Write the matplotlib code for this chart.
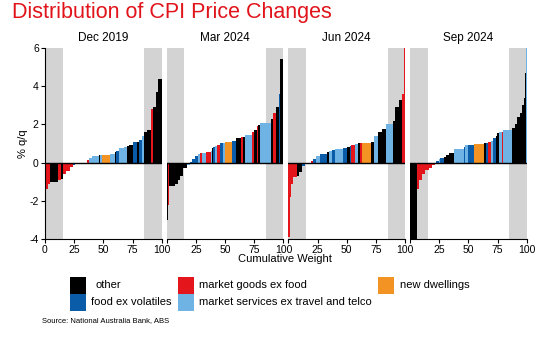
import numpy as np
import matplotlib
matplotlib.use("Agg")
import matplotlib.pyplot as plt
from matplotlib.patches import Rectangle

plt.rcParams['font.family'] = ['Liberation Sans', 'DejaVu Sans']
plt.rcParams['axes.unicode_minus'] = False

quarters = ['Dec 2019', 'Mar 2024', 'Jun 2024', 'Sep 2024']

# CPI items sorted by q/q price change: weight (% of basket), change (%), group
# o = other, g = market goods ex food, d = new dwellings,
# f = food ex volatiles, s = market services ex travel and telco
dec19_w = [1, 1.5, 2, 7, 2.5, 1.5, 2.5, 3, 3, 2, 10, 1.5, 2.5, 6, 1, 2, 7, 4, 1, 2,
           5, 2.5, 1.5, 3, 4, 1.5, 2.5, 1.5, 2.5, 4, 1.5, 3, 1.5, 3]
dec19_chg = [-1.7, -1.4, -1.1, -1.0, -0.9, -0.85, -0.6, -0.45, -0.25, -0.1, 0.0,
             0.15, 0.25, 0.35, 0.4, 0.4, 0.4, 0.45, 0.55, 0.6, 0.75, 0.8, 0.85,
             0.9, 1.1, 1.1, 1.2, 1.4, 1.6, 1.7, 2.8, 2.9, 3.7, 4.4]
dec19_grp = ['g', 'g', 'g', 'o', 'g', 'o', 'g', 'g', 'g', 'f', 'o',
             'g', 's', 's', 'o', 's', 'd', 's', 'o', 'f', 's', 's', 'o',
             'o', 'f', 'o', 'f', 's', 'o', 'o', 'g', 'o', 'o', 'o']

mar24_w = [1, 1, 5, 3, 1.5, 2.5, 3, 3, 1.5, 2.5, 3, 1.5, 1.5, 4, 4, 1, 1, 1.5, 2,
           2, 3, 1.5, 6, 3, 5, 1, 2, 6, 2, 2, 1.5, 1.5, 9, 2.5, 2.5, 2, 1.5, 2.5]
mar24_chg = [-3.0, -2.2, -1.2, -1.1, -0.9, -0.7, -0.3, -0.15, 0.05, 0.2, 0.35,
             0.45, 0.5, 0.5, 0.55, 0.6, 0.75, 0.8, 0.85, 0.9, 1.0, 1.05, 1.1,
             1.15, 1.3, 1.35, 1.35, 1.45, 1.6, 1.7, 1.9, 1.95, 2.05, 2.3, 2.6,
             2.9, 3.6, 5.4]
mar24_grp = ['o', 'g', 'o', 'o', 'o', 'o', 'o', 's', 'f', 'f', 'f',
             's', 'g', 's', 'g', 's', 'o', 'f', 's', 'g', 'f', 's', 'd',
             'f', 'o', 'g', 'o', 's', 'g', 'o', 'g', 'o', 's', 'o', 'g',
             'o', 'f', 'o']

jun24_w = [1, 1, 2, 3, 2, 2.5, 2.5, 5, 2, 3, 3, 6, 1.5, 2.5, 3, 7, 3, 2.5, 1.5,
           3, 3, 1.5, 1.5, 8, 2.5, 3.5, 3, 3.5, 6.5, 1.5, 3, 2.5, 2, 1]
jun24_chg = [-3.9, -1.8, -1.1, -0.75, -0.7, -0.5, -0.2, 0.0, 0.1, 0.2, 0.35,
             0.45, 0.55, 0.6, 0.65, 0.7, 0.75, 0.8, 0.85, 0.9, 0.95, 1.0, 1.05,
             1.05, 1.1, 1.4, 1.6, 1.75, 2.0, 2.2, 2.9, 3.3, 3.6, 6.0]
jun24_grp = ['g', 'g', 'g', 'g', 'o', 'o', 'f', 'o', 'g', 'f', 's',
             'f', 'o', 's', 'f', 's', 'f', 'o', 'f', 'g', 's', 'o', 'g',
             'd', 'o', 's', 'o', 'o', 's', 'o', 'o', 'o', 'g', 'g']

sep24_w = [6, 2, 2.5, 2.5, 3, 3, 2.5, 1, 2, 1.5, 3, 1.5, 2.5, 5, 8, 1.5, 2.5, 5,
           8.5, 2, 1.5, 2, 2.5, 2, 1, 1.5, 2.5, 1, 7.5, 3, 2, 2, 2, 1.5, 1.3,
           0.9, 0.3]
sep24_chg = [-4.3, -1.4, -0.9, -0.6, -0.4, -0.3, -0.15, -0.05, 0.1, 0.2, 0.25,
             0.3, 0.4, 0.5, 0.7, 0.8, 0.9, 0.9, 0.95, 1.0, 1.05, 1.1, 1.15,
             1.3, 1.4, 1.55, 1.6, 1.6, 1.7, 1.8, 2.0, 2.4, 2.6, 3.0, 3.4,
             4.7, 6.0]
sep24_grp = ['o', 'g', 'g', 'g', 'g', 'g', 'g', 'f', 'f', 's', 'f',
             'o', 'o', 'o', 's', 'f', 's', 'f', 'd', 'o', 'f', 'g', 's',
             'f', 'o', 'o', 's', 'g', 's', 'o', 'o', 'o', 'o', 'o', 'o',
             'o', 's']

group_colors = {'o': '#000000', 'g': '#e4151b', 'd': '#f39323',
                'f': '#0a5ca8', 's': '#6eb3e3'}
group_names = {'o': 'other', 'g': 'market goods ex food', 'd': 'new dwellings',
               'f': 'food ex volatiles', 's': 'market services ex travel and telco'}

panels = [(dec19_w, dec19_chg, dec19_grp), (mar24_w, mar24_chg, mar24_grp),
          (jun24_w, jun24_chg, jun24_grp), (sep24_w, sep24_chg, sep24_grp)]

W, H = 560, 337
fig = plt.figure(figsize=(W / 100, H / 100), dpi=100)

def fx(px):
    return px / W

def fy(py):
    return 1 - py / H

lefts = [45, 166.7, 288.4, 410]
for i, (name, (w, chg, grp)) in enumerate(zip(quarters, panels)):
    ax = fig.add_axes([fx(lefts[i]), fy(239), 116.7 / W, 191 / H])
    ax.axvspan(0, 15, color='#d3d3d3', lw=0)
    ax.axvspan(85, 100, color='#d3d3d3', lw=0)
    x0 = np.concatenate([[0], np.cumsum(w)[:-1]])
    ax.bar(x0, chg, width=w, align='edge', linewidth=0,
           color=[group_colors[g] for g in grp])
    ax.axhline(0, color='black', lw=1)
    ax.set_xlim(0, 100)
    ax.set_ylim(-4, 6)
    ax.set_xticks([0, 25, 50, 75, 100])
    ax.set_yticks([-4, -2, 0, 2, 4, 6])
    ax.spines[['top', 'right']].set_visible(False)
    ax.tick_params(length=3, width=0.8, labelsize=7.5, pad=1.5)
    if i == 0:
        ax.set_ylabel('% q/q', fontsize=8, labelpad=1)
    else:
        ax.spines['left'].set_visible(False)
        ax.tick_params(axis='y', left=False, labelleft=False)
        ax.set_xticklabels(['', '25', '50', '75', '100'])
    ax.set_title(name, fontsize=8.5, pad=5)

fig.text(fx(12), fy(12.5), 'Distribution of CPI Price Changes', color='#e0141a',
         fontsize=15.5, va='center', ha='left')
fig.text(fx(285), fy(259), 'Cumulative Weight', fontsize=8, ha='center', va='center')

# legend drawn as coloured blocks beside text
legend_rows = [[('o', 70, 95), ('g', 178, 199), ('d', 378, 400)],
               [('f', 70, 91), ('s', 178, 199)]]
row_tops = [276.7, 293.5]
for row, top in zip(legend_rows, row_tops):
    for key, bx, tx in row:
        fig.add_artist(Rectangle((fx(bx), fy(top + 17)), 15.5 / W, 17 / H,
                                 transform=fig.transFigure, color=group_colors[key], lw=0))
        fig.text(fx(tx), fy(top + 8.5), group_names[key], fontsize=8,
                 ha='left', va='center')

fig.text(fx(42), fy(321), 'Source: National Australia Bank, ABS', fontsize=5.5,
         ha='left', va='center')

fig.savefig('out.png', dpi=100)
